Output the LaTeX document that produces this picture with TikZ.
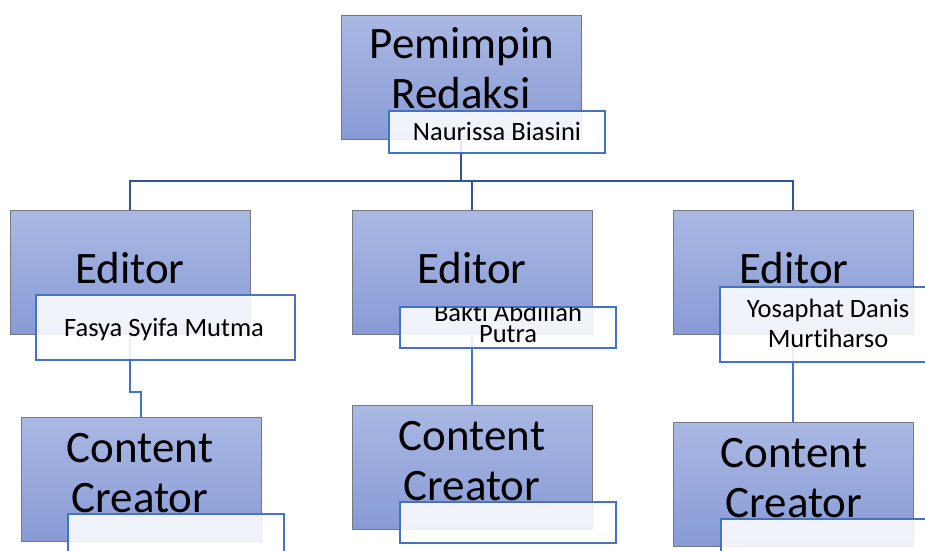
\documentclass[tikz,border=0pt]{standalone}
\usepackage{fontspec}
\setmainfont{Carlito}[Ligatures=NoCommon]
\definecolor{mtop}{RGB}{170,184,227}
\definecolor{mbot}{RGB}{136,155,214}
\definecolor{mgray}{RGB}{118,120,128}
\definecolor{nblue}{RGB}{68,114,196}
\definecolor{cdark}{RGB}{47,85,151}
\pgfdeclarelayer{bg}
\pgfdeclarelayer{fg}
\pgfsetlayers{bg,main,fg}
\begin{document}
\begin{tikzpicture}[x=1pt,y=-1pt,
 mainbox/.style={draw=mgray, line width=1pt, top color=mtop, bottom color=mbot, minimum width=240pt, minimum height=124pt, inner sep=0pt, outer sep=0pt, anchor=north west},
 namebox/.style={draw=nblue, line width=1.3pt, fill=white, fill opacity=0.88, text opacity=1, minimum width=216pt, inner sep=0pt, outer sep=0pt, anchor=north west},
 big/.style={font=\fontsize{45}{50}\selectfont, anchor=base, inner sep=0pt},
 nametext/.style={font=\fontsize{26.5}{29}\selectfont, anchor=base, inner sep=0pt},
 upline/.style={draw=cdark, line width=2pt},
 lowline/.style={draw=nblue, line width=2pt}]
\useasboundingbox (0,0) rectangle (925,550);
\clip (0,0) rectangle (925,550);
% main boxes
\path (341,15) node[mainbox] (pr) {};
\path (10,210) node[mainbox] (ed1) {};
\path (352,210) node[mainbox] (ed2) {};
\path (673,210) node[mainbox] (ed3) {};
\path (21,417) node[mainbox] (cc1) {};
\path (352,405) node[mainbox] (cc2) {};
\path (673,422) node[mainbox] (cc3) {};
% big labels
\node[big] (tpr1) at (462,58) {Pemimpin};
\node[big] (tpr2) at (461,108) {Redaksi};
\node[big] (ted1) at (130,283) {Editor};
\node[big] (ted2) at (472,283) {Editor};
\node[big] (ted3) at (794,283) {Editor};
\node[big] (tcc1a) at (140,462) {Content};
\node[big] (tcc1b) at (140,512) {Creator};
\node[big] (tcc2a) at (472,450) {Content};
\node[big] (tcc2b) at (472,500) {Creator};
\node[big] (tcc3a) at (794,467) {Content};
\node[big] (tcc3b) at (794,517) {Creator};
% connectors (behind)
\coordinate (hy) at (0,181);
\coordinate (by) at (0,392);
\begin{pgfonlayer}{bg}
\draw[upline] (pr.south) -- (pr.south |- hy);
\draw[upline] (ed1.north) -- (ed1.north |- hy) -- (ed3.north |- hy) -- (ed3.north);
\draw[upline] (ed2.north) -- (ed2.north |- hy);
\draw[lowline] (ed1.south) -- (ed1.south |- by) -| (cc1.north);
\draw[lowline] (ed2.south) -- (cc2.north);
\draw[lowline] (ed3.south) -- (cc3.north);
\end{pgfonlayer}
% name boxes
\begin{pgfonlayer}{fg}
\path (389,111) node[namebox, minimum height=42pt] (n0) {};
\path (36,295) node[namebox, minimum width=259pt, minimum height=65pt] (n1) {};
\path (400,307) node[namebox, minimum height=41pt] (n2) {};
\path (720,287) node[namebox, minimum height=75pt] (n3) {};
\path (68,514) node[namebox, minimum height=42pt] (m1) {};
\path (400,502) node[namebox, minimum height=41pt] (m2) {};
\path (721,519) node[namebox, minimum height=42pt] (m3) {};
\node[nametext] (tn0) at (497,140) {Naurissa Biasini};
\node[nametext] (tn1) at (164,336) {Fasya Syifa Mutma};
\begin{scope}
\clip (n2.north west) rectangle (n2.south east);
\node[nametext] (tn2a) at (508,321) {Bakti Abdillah};
\node[nametext] (tn2b) at (508,342) {Putra};
\end{scope}
\node[nametext] (tn3a) at (828,317) {Yosaphat Danis};
\node[nametext] (tn3b) at (828,347) {Murtiharso};
\end{pgfonlayer}
\end{tikzpicture}
\end{document}
